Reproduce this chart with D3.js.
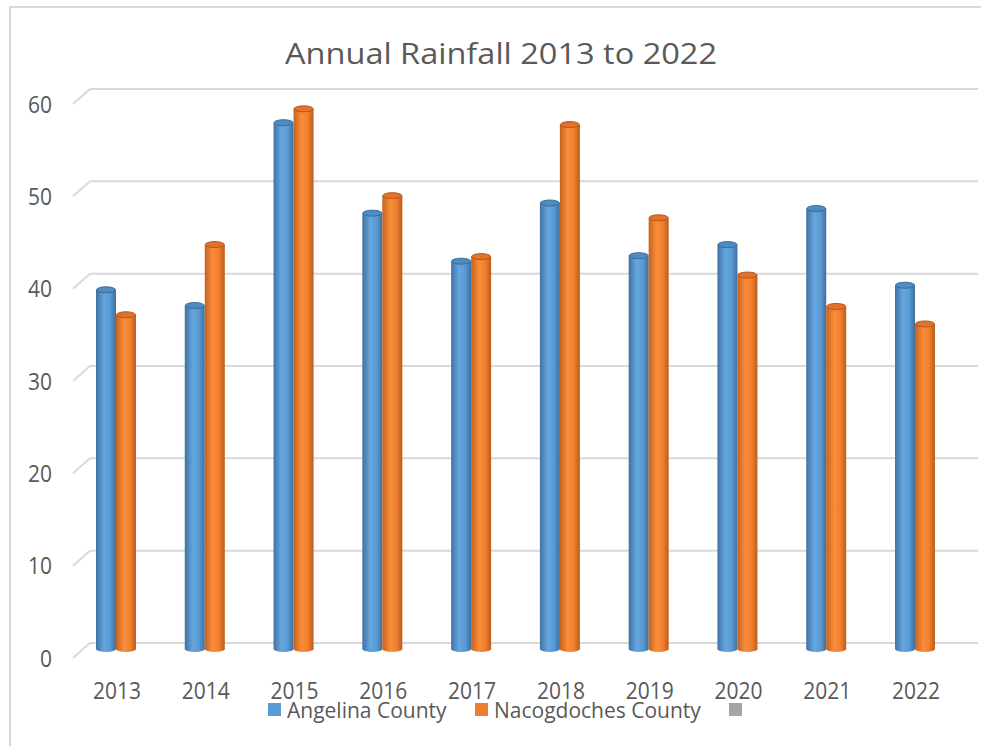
<!DOCTYPE html>
<html>
<head>
<meta charset="utf-8">
<script src="https://cdn.jsdelivr.net/npm/d3@7"></script>
<style>
  body { margin: 0; background: #fff; }
</style>
</head>
<body>
<div id="chart"></div>
<script>
// values
const years = ['2013', '2014', '2015', '2016', '2017', '2018', '2019', '2020', '2021', '2022'];
const seriesNames = ['Angelina County', 'Nacogdoches County'];
const angelina = [38.9, 37.2, 57.0, 47.2, 42.0, 48.3, 42.6, 43.8, 47.7, 39.4];
const nacogdoches = [36.2, 43.8, 58.5, 49.1, 42.5, 56.8, 46.7, 40.5, 37.1, 35.2];
const yTicks = [0, 10, 20, 30, 40, 50, 60];

const width = 981, height = 746;
const textColor = '#595959', gridColor = '#d9d9d9';
const fontFamily = '"Open Sans", sans-serif';
// calibri-like digits are narrow and tall: squeeze them a bit
const digitW = 12;

// 3d depth offset of the back wall
const depthX = 17, depthY = 15;

const svg = d3.select('#chart')
    .append('svg')
    .attr('width', width)
    .attr('height', height);

// chart border
svg.append('rect')
    .attr('x', 10).attr('y', 7)
    .attr('width', 990).attr('height', 760)
    .attr('fill', 'none')
    .attr('stroke', gridColor)
    .attr('stroke-width', 2);

// back wall scale
const y = d3.scaleLinear().domain([0, 60]).range([643, 89]);
const wallLeft = 90, wallRight = 978;

const x = d3.scalePoint().domain(years).range([116, 915]);
const xSub = d3.scaleBand().domain(seriesNames).range([-20, 20]);

// gridlines + slanted side segments
const grid = svg.append('g');
grid.selectAll('line.wall')
    .data(yTicks)
    .enter()
    .append('line')
    .attr('x1', wallLeft).attr('x2', wallRight)
    .attr('y1', d => y(d)).attr('y2', d => y(d))
    .attr('stroke', gridColor).attr('stroke-width', 2);
grid.selectAll('line.side')
    .data(yTicks)
    .enter()
    .append('line')
    .attr('x1', wallLeft - depthX).attr('x2', wallLeft)
    .attr('y1', d => y(d) + depthY).attr('y2', d => y(d))
    .attr('stroke', gridColor).attr('stroke-width', 2);

// y labels
svg.append('g').selectAll('text')
    .data(yTicks)
    .enter()
    .append('text')
    .attr('x', 52)
    .attr('y', d => y(d) + depthY)
    .attr('dy', '0.36em')
    .attr('text-anchor', 'end')
    .attr('fill', textColor)
    .attr('textLength', d => String(d).length * digitW)
    .attr('lengthAdjust', 'spacingAndGlyphs')
    .style('font-family', fontFamily)
    .style('font-size', '24px')
    .text(d => d);

// cylinder gradients
const defs = svg.append('defs');
const palettes = [
    { id: 'gBlue', stops: ['#3f72a3', '#66a6df', '#5b9bd5', '#3e6f9c'], top: '#4e8bc3', rim: '#3d6c98' },
    { id: 'gOrange', stops: ['#c4621f', '#fb8d3a', '#f0802f', '#bd5c1c'], top: '#e2712a', rim: '#b7581a' }
];
palettes.forEach(p => {
    const g = defs.append('linearGradient').attr('id', p.id)
        .attr('x1', '0%').attr('x2', '100%').attr('y1', '0%').attr('y2', '0%');
    [0, 0.4, 0.7, 1].forEach((o, i) => {
        g.append('stop').attr('offset', o).attr('stop-color', p.stops[i]);
    });
});

const seriesData = [angelina, nacogdoches];
const barW = xSub.bandwidth(), ry = 3;
// bar center y sits halfway into the depth
const yBar = v => y(v) + 6;

seriesNames.forEach((name, si) => {
    const p = palettes[si];
    const rows = years.map((yr, i) => ({ year: yr, value: seriesData[si][i] }));
    const g = svg.append('g');
    const bars = g.selectAll('g')
        .data(rows)
        .enter()
        .append('g');

    bars.append('ellipse')
        .attr('cx', d => x(d.year) + xSub(name) + barW / 2)
        .attr('cy', yBar(0))
        .attr('rx', barW / 2).attr('ry', ry)
        .attr('fill', 'url(#' + p.id + ')');

    bars.append('rect')
        .attr('x', d => x(d.year) + xSub(name))
        .attr('y', d => yBar(d.value))
        .attr('width', barW)
        .attr('height', d => yBar(0) - yBar(d.value))
        .attr('fill', 'url(#' + p.id + ')');

    bars.append('ellipse')
        .attr('cx', d => x(d.year) + xSub(name) + barW / 2)
        .attr('cy', d => yBar(d.value))
        .attr('rx', barW / 2 - 0.5).attr('ry', ry)
        .attr('fill', p.top)
        .attr('stroke', p.rim)
        .attr('stroke-width', 1);
});

// year labels
svg.append('g').selectAll('text')
    .data(years)
    .enter()
    .append('text')
    .attr('x', d => x(d) + 1)
    .attr('y', 699)
    .attr('text-anchor', 'middle')
    .attr('fill', textColor)
    .attr('textLength', d => d.length * digitW)
    .attr('lengthAdjust', 'spacingAndGlyphs')
    .style('font-family', fontFamily)
    .style('font-size', '24px')
    .text(d => d);

// title
svg.append('text')
    .attr('x', 501)
    .attr('y', 64)
    .attr('text-anchor', 'middle')
    .attr('fill', textColor)
    .attr('textLength', 432)
    .attr('lengthAdjust', 'spacingAndGlyphs')
    .style('font-family', fontFamily)
    .style('font-size', '29px')
    .text('Annual Rainfall 2013 to 2022');

// legend
const legendItems = [
    { name: 'Angelina County', color: '#5b9bd5', x: 268 },
    { name: 'Nacogdoches County', color: '#ed7d31', x: 475 },
    { name: '', color: '#a5a5a5', x: 729 }
];
const legend = svg.append('g').selectAll('g')
    .data(legendItems)
    .enter()
    .append('g');
legend.append('rect')
    .attr('x', d => d.x).attr('y', 703)
    .attr('width', 13).attr('height', 13)
    .attr('fill', d => d.color);
legend.append('text')
    .attr('x', d => d.x + 19)
    .attr('y', 718)
    .attr('fill', textColor)
    .style('font-family', fontFamily)
    .style('font-size', '21px')
    .text(d => d.name);
</script>
</body>
</html>
